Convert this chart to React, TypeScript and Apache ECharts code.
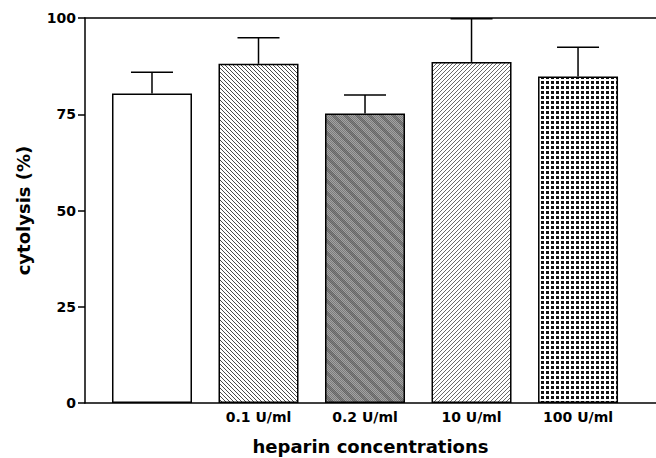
import React, { useEffect, useRef } from 'react';
import * as echarts from 'echarts';

const categories = ['', '0.1 U/ml', '0.2 U/ml', '10 U/ml', '100 U/ml'];
const means = [80.4, 88.1, 75.2, 88.6, 84.8];
const errors = [5.5, 6.8, 4.8, 11.2, 7.6];
const yTicks = [0, 25, 50, 75, 100];
const patternKinds = ['plain', 'backHatch', 'darkGray', 'fwdHatch', 'dots'];

const FONT = '"DejaVu Sans", Verdana, sans-serif';

function makePattern(kind: string): any {
  if (kind === 'plain') return '#ffffff';
  const c = document.createElement('canvas');
  let size = 4;
  if (kind === 'darkGray') size = 12;
  if (kind === 'dots') size = 5;
  c.width = size;
  c.height = size;
  const ctx = c.getContext('2d')!;
  ctx.fillStyle = '#ffffff';
  ctx.fillRect(0, 0, size, size);
  if (kind === 'backHatch') {
    ctx.fillStyle = '#4a4a4a';
    for (let i = 0; i < size; i++) ctx.fillRect(i, i, 1, 1);
  } else if (kind === 'fwdHatch') {
    ctx.fillStyle = '#6a6a6a';
    for (let i = 0; i < size; i++) ctx.fillRect(i, size - 1 - i, 1, 1);
  } else if (kind === 'darkGray') {
    for (let x = 0; x < size; x++) {
      for (let y = 0; y < size; y++) {
        const stripe = ((x - y + size * 2) % size) < 5;
        const checker = (x + y) % 2 === 0;
        const col = stripe ? (checker ? '#666666' : '#808080') : (checker ? '#7c7c7c' : '#a2a2a2');
        ctx.fillStyle = col;
        ctx.fillRect(x, y, 1, 1);
      }
    }
  } else if (kind === 'dots') {
    ctx.fillStyle = '#111111';
    ctx.fillRect(1, 1, 3, 3);
  }
  return { image: c, repeat: 'repeat', imageWidth: size, imageHeight: size };
}

export default function App() {
  const ref = useRef<HTMLDivElement>(null);
  useEffect(() => {
    if (!ref.current) return;
    const chart = echarts.init(ref.current, undefined, { renderer: 'svg' });
    const xMin = 0.371;
    const xMax = 5.732;
    const option: any = {
      animation: false,
      backgroundColor: '#ffffff',
      grid: { left: 85, right: 0, top: 18, bottom: 55, outerBoundsMode: 'none', containLabel: false },
      xAxis: [
        {
          type: 'value',
          min: xMin,
          max: xMax,
          position: 'bottom',
          name: 'heparin concentrations',
          nameLocation: 'middle',
          nameGap: 34,
          nameTextStyle: { fontFamily: FONT, fontWeight: 'bold', fontSize: 18, color: '#000' },
          axisLine: { show: true, lineStyle: { color: '#000', width: 1.5 } },
          axisTick: { show: false },
          splitLine: { show: false },
          axisLabel: {
            customValues: categories.map((_, i) => i + 1),
            formatter: (v: number) => categories[Math.round(v) - 1] ?? '',
            fontFamily: FONT,
            fontWeight: 'bold',
            fontSize: 14,
            color: '#000',
            margin: 7,
          },
        },
        {
          type: 'value',
          min: xMin,
          max: xMax,
          position: 'top',
          axisLine: { show: true, lineStyle: { color: '#000', width: 1.5 } },
          axisTick: { show: false },
          axisLabel: { show: false },
          splitLine: { show: false },
        },
      ],
      yAxis: {
        type: 'value',
        min: yTicks[0],
        max: yTicks[yTicks.length - 1],
        interval: 25,
        name: 'cytolysis (%)',
        nameLocation: 'middle',
        nameGap: 53,
        nameTextStyle: { fontFamily: FONT, fontWeight: 'bold', fontSize: 18, color: '#000' },
        axisLine: { show: true, lineStyle: { color: '#000', width: 1.5 } },
        axisTick: { show: true, length: 7, lineStyle: { color: '#000', width: 1.5 } },
        splitLine: { show: false },
        axisLabel: { fontFamily: FONT, fontWeight: 'bold', fontSize: 14, color: '#000', margin: 9 },
      },
      series: [
        {
          type: 'bar',
          xAxisIndex: 0,
          barWidth: 80,
          data: means.map((v, i) => ({
            value: [i + 1, v],
            itemStyle: { color: makePattern(patternKinds[i]), borderColor: '#000', borderWidth: 1.5 },
          })),
        },
        {
          type: 'custom',
          xAxisIndex: 0,
          clip: false,
          z: 5,
          data: means.map((v, i) => [i + 1, v, errors[i]]),
          renderItem: (params: any, api: any) => {
            const x = api.value(0);
            const y = api.value(1);
            const e = api.value(2);
            const p0 = api.coord([x, y]);
            const p1 = api.coord([x, y + e]);
            const style = { stroke: '#000', lineWidth: 1.5 };
            return {
              type: 'group',
              children: [
                { type: 'line', shape: { x1: p0[0], y1: p0[1], x2: p1[0], y2: p1[1] }, style },
                { type: 'line', shape: { x1: p1[0] - 21, y1: p1[1], x2: p1[0] + 21, y2: p1[1] }, style },
              ],
            };
          },
        },
      ],
    };
    chart.setOption(option);
    return () => chart.dispose();
  }, []);
  return <div ref={ref} style={{ position: 'fixed', left: 0, top: 0, width: 656, height: 458 }} />;
}
